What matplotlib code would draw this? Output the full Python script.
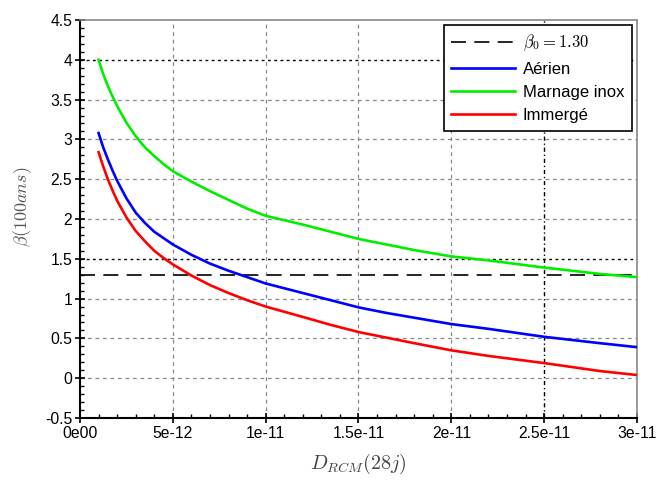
import matplotlib
matplotlib.use("Agg")
import matplotlib.pyplot as plt
from matplotlib.ticker import MultipleLocator, FuncFormatter, AutoMinorLocator

plt.rcParams['font.family'] = ['Liberation Sans', 'DejaVu Sans']
plt.rcParams['mathtext.fontset'] = 'cm'

# D_RCM values (units of 1e-12)
d_e12 = [1, 1.25, 1.5, 1.75, 2, 2.5, 3, 3.5, 4, 4.5, 5, 6, 7, 8, 9, 10, 12, 13.5, 15, 16.5, 18, 20, 22, 25, 28, 30]
aerien = [3.08, 2.90, 2.75, 2.61, 2.48, 2.26, 2.08, 1.95, 1.84, 1.76, 1.68, 1.55, 1.44, 1.35, 1.27, 1.19, 1.07, 0.98, 0.89, 0.82, 0.76, 0.68, 0.62, 0.52, 0.44, 0.39]
marnage = [4.0, 3.82, 3.67, 3.54, 3.42, 3.21, 3.04, 2.90, 2.79, 2.69, 2.60, 2.47, 2.35, 2.24, 2.13, 2.04, 1.93, 1.84, 1.75, 1.68, 1.61, 1.53, 1.48, 1.39, 1.31, 1.27]
immerge = [2.84, 2.66, 2.50, 2.36, 2.23, 2.02, 1.85, 1.72, 1.60, 1.51, 1.43, 1.29, 1.17, 1.07, 0.98, 0.90, 0.77, 0.67, 0.58, 0.51, 0.44, 0.35, 0.28, 0.19, 0.09, 0.04]
beta0 = 1.30
xticklabels = ['0e00', '5e-12', '1e-11', '1.5e-11', '2e-11', '2.5e-11', '3e-11']

x = [v * 1e-12 for v in d_e12]

fig = plt.figure(figsize=(6.6, 4.84), dpi=100)
ax = fig.add_axes([80/660, 1-418/484, (637-80)/660, (418-20)/484])

ax.set_xlim(0, 3e-11)
ax.set_ylim(-0.5, 4.5)

# grid
for yv in [-0.5, 0, 0.5, 1, 2, 2.5, 3, 3.5]:
    ax.axhline(yv, color='#888888', ls=(0, (3, 3)), lw=0.9, zorder=1)
for yv in [4, 1.5]:
    ax.axhline(yv, color='black', ls=(0, (2, 2.5)), lw=1.0, zorder=1)
for xv in [5e-12, 1e-11, 1.5e-11, 2e-11]:
    ax.axvline(xv, color='#888888', ls=(0, (3, 3)), lw=0.9, zorder=1)
ax.axvline(2.5e-11, color='black', ls=(0, (3, 2, 1, 2)), lw=1.0, zorder=1)

ax.axhline(beta0, color='black', ls=(0, (9, 5)), lw=1.2, zorder=2,
           label=r'$\beta_0 = 1.30$')
ax.plot(x, aerien, color='#0000ff', lw=1.9, label='Aérien', zorder=3)
ax.plot(x, marnage, color='#00ee00', lw=1.9, label='Marnage inox', zorder=3)
ax.plot(x, immerge, color='#ff0000', lw=1.9, label='Immergé', zorder=3)

ax.set_xticks([i * 5e-12 for i in range(7)])
ax.set_xticklabels(xticklabels)
ax.yaxis.set_major_locator(MultipleLocator(0.5))
ax.yaxis.set_major_formatter(FuncFormatter(lambda v, p: ('%g' % v)))
ax.xaxis.set_minor_locator(AutoMinorLocator(5))
ax.yaxis.set_minor_locator(AutoMinorLocator(5))
ax.tick_params(which='major', direction='inout', length=7, width=1.2, labelsize=11.3, pad=2)
ax.tick_params(which='minor', direction='in', length=3, width=1.0)

for s in ['left', 'bottom']:
    ax.spines[s].set_color('black')
    ax.spines[s].set_linewidth(1.5)
for s in ['top', 'right']:
    ax.spines[s].set_color('#888888')
    ax.spines[s].set_linewidth(1.2)

ax.set_xlabel(r'$D_{RCM}(28j)$', fontsize=14.5, color='#444444', labelpad=8)
ax.set_ylabel(r'$\beta(100ans)$', fontsize=13, color='#555555')
ax.yaxis.set_label_coords(-0.082, 0.53)

leg = ax.legend(loc='upper right', bbox_to_anchor=(0.991, 0.987), fontsize=12,
                handlelength=3.8, handletextpad=0.5, frameon=True, fancybox=False,
                borderaxespad=0, labelspacing=0.5, borderpad=0.45)
leg.get_frame().set_edgecolor('black')
leg.get_frame().set_linewidth(1.2)
leg.get_frame().set_alpha(1)

fig.savefig('out.png', dpi=100)
